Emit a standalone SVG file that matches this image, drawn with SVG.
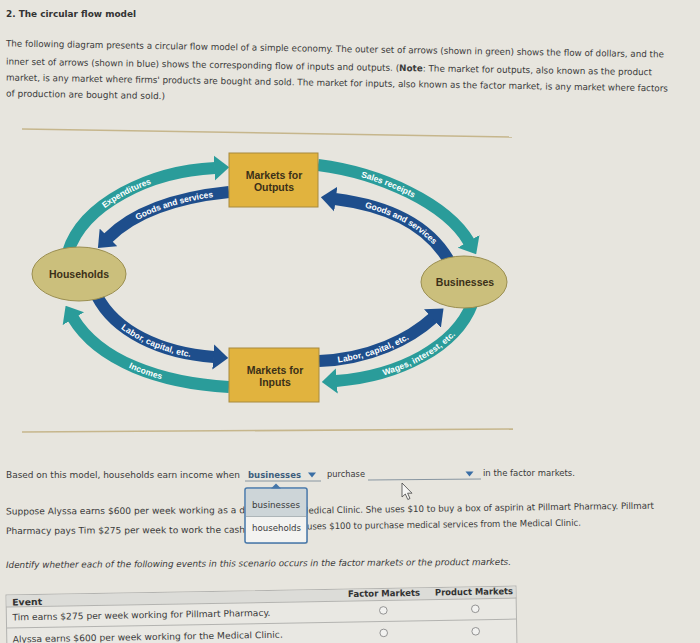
<svg xmlns="http://www.w3.org/2000/svg" width="700" height="643" viewBox="0 0 700 643">
<defs>
<style>
.ui{font-family:"DejaVu Sans","Liberation Sans",sans-serif;font-size:9px;fill:#3a3a3a}
.uib{font-family:"DejaVu Sans","Liberation Sans",sans-serif;font-size:9px;fill:#333;font-weight:bold}
.lbl{font-family:"Liberation Sans",Arial,sans-serif;font-size:10.5px;font-weight:bold;fill:#3b3018;text-anchor:middle}
.arr{font-family:"Liberation Sans",Arial,sans-serif;font-size:8.5px;font-weight:bold;fill:#ffffff;text-anchor:middle}
.teal{fill:none;stroke:#2a9c9a;stroke-width:12;marker-end:url(#ht)}
.blue{fill:none;stroke:#1e4e8c;stroke-width:12;marker-end:url(#hb)}
.box{fill:#e1b33e;stroke:#a88a3c;stroke-width:1}
.ell{fill:#cbbf7c;stroke:#9a8e50;stroke-width:1}
.rad{fill:#f2f2f0;stroke:#8a8a8a;stroke-width:0.9}
</style>
<marker id="ht" viewBox="0 0 6 10" refX="0.3" refY="5" markerWidth="1.25" markerHeight="2.1" orient="auto"><path d="M0,0 L6,5 L0,10 z" fill="#2a9c9a"/></marker>
<marker id="hb" viewBox="0 0 6 10" refX="0.3" refY="5" markerWidth="1.25" markerHeight="2.1" orient="auto"><path d="M0,0 L6,5 L0,10 z" fill="#1e4e8c"/></marker>
<path id="p1" d="M68,252 C83,204 150,171 215,168"/>
<path id="p2" d="M108,238 C135,211 180,197 229,192"/>
<path id="p3" d="M318,165 C381,173 447,204 469,242"/>
<path id="p4" d="M335,199 C390,206 429,226 449,261"/>
<path id="p5" d="M97,296 C115,331 160,353 214,357"/>
<path id="p6" d="M73,318 C99,361 160,383 229,387"/>
<path id="p7" d="M319,361 C370,359 410,339 433,318"/>
<path id="p8" d="M336,381 C400,376 456,346 472,304"/>
</defs>
<rect x="0" y="0" width="700" height="643" fill="#e7e5de"/>

<text class="uib" x="6" y="17" font-size="10" textLength="130" lengthAdjust="spacingAndGlyphs">2. The circular flow model</text>
<g class="intro">
<text class="ui" x="6" y="46.5" transform="rotate(0.95 6 46.5)" textLength="658" lengthAdjust="spacingAndGlyphs">The following diagram presents a circular flow model of a simple economy. The outer set of arrows (shown in green) shows the flow of dollars, and the</text>
<text class="ui" x="6" y="64.5" transform="rotate(0.95 6 64.5)" textLength="646" lengthAdjust="spacingAndGlyphs">inner set of arrows (shown in blue) shows the corresponding flow of inputs and outputs. (<tspan font-weight="bold">Note</tspan>: The market for outputs, also known as the product</text>
<text class="ui" x="6" y="80.5" transform="rotate(0.95 6 80.5)" textLength="662" lengthAdjust="spacingAndGlyphs">market, is any market where firms' products are bought and sold. The market for inputs, also known as the factor market, is any market where factors</text>
<text class="ui" x="6" y="96.5" transform="rotate(0.95 6 96.5)" textLength="159" lengthAdjust="spacingAndGlyphs">of production are bought and sold.)</text>
</g>

<line x1="22" y1="129" x2="512" y2="137" stroke="#c6b68c" stroke-width="1.6"/>
<line x1="22" y1="432" x2="513" y2="429" stroke="#c6b68c" stroke-width="1.6"/>

<g id="connectors">
<use href="#p1" class="teal"/>
<path d="M229,192 C180,197 135,211 108,238" class="blue"/>
<use href="#p3" class="teal"/>
<path d="M449,261 C429,226 390,206 335,199" class="blue"/>
<use href="#p5" class="blue"/>
<path d="M229,387 C160,383 99,361 73,318" class="teal"/>
<use href="#p7" class="blue"/>
<path d="M472,304 C456,346 400,376 336,381" class="teal"/>
<text class="arr" dy="3"><textPath href="#p1" startOffset="48%">Expenditures</textPath></text>
<text class="arr" dy="3"><textPath href="#p2" startOffset="57%">Goods and services</textPath></text>
<text class="arr" dy="3"><textPath href="#p3" startOffset="42%">Sales receipts</textPath></text>
<text class="arr" dy="3"><textPath href="#p4" startOffset="53%">Goods and services</textPath></text>
<text class="arr" dy="3"><textPath href="#p5" startOffset="56%">Labor, capital, etc.</textPath></text>
<text class="arr" dy="3"><textPath href="#p6" startOffset="52%">Incomes</textPath></text>
<text class="arr" dy="3"><textPath href="#p7" startOffset="45%">Labor, capital, etc.</textPath></text>
<text class="arr" dy="3"><textPath href="#p8" startOffset="54%">Wages, interest, etc.</textPath></text>
</g>

<g id="households">
<ellipse class="ell" cx="79" cy="274" rx="47" ry="27"/>
<text class="lbl" x="79" y="278" font-size="10">Households</text>
</g>
<g id="businesses">
<ellipse class="ell" cx="464" cy="282" rx="43" ry="26"/>
<text class="lbl" x="465" y="286" font-size="10">Businesses</text>
</g>
<g id="outputs">
<rect class="box" x="229" y="153" width="89" height="54"/>
<text class="lbl" x="274" y="179">Markets for</text>
<text class="lbl" x="274" y="191">Outputs</text>
</g>
<g id="inputs">
<rect class="box" x="229" y="348" width="90" height="54"/>
<text class="lbl" x="275" y="374">Markets for</text>
<text class="lbl" x="275" y="386">Inputs</text>
</g>

<g id="question">
<text class="ui" x="6" y="478" textLength="234" lengthAdjust="spacingAndGlyphs">Based on this model, households earn income when</text>
<text class="uib" x="248" y="477.5" style="fill:#3e5d7c" textLength="53" lengthAdjust="spacingAndGlyphs">businesses</text>
<line x1="245" y1="481" x2="321" y2="481" stroke="#7d8c9a" stroke-width="0.9"/>
<polygon points="308,472.5 316,472.5 312,477.5" fill="#3a6ea5"/>
<text class="ui" x="327" y="477" textLength="38" lengthAdjust="spacingAndGlyphs">purchase</text>
<line x1="368" y1="480" x2="481" y2="479" stroke="#7d8c9a" stroke-width="0.9"/>
<polygon points="465.5,471.5 473.5,471.5 469.5,476.5" fill="#3a6ea5"/>
<text class="ui" x="483" y="476" textLength="92" lengthAdjust="spacingAndGlyphs">in the factor markets.</text>

<text class="ui" x="6" y="514.5" transform="rotate(-0.3 6 514.5)" textLength="239" lengthAdjust="spacingAndGlyphs">Suppose Alyssa earns $600 per week working as a d</text>
<text class="ui" x="306" y="513.5" transform="rotate(-0.8 306 513.5)" textLength="348" lengthAdjust="spacingAndGlyphs">ledical Clinic. She uses $10 to buy a box of aspirin at Pillmart Pharmacy. Pillmart</text>
<text class="ui" x="6" y="534" transform="rotate(-0.3 6 534)" textLength="239" lengthAdjust="spacingAndGlyphs">Pharmacy pays Tim $275 per week to work the cash</text>
<text class="ui" x="307" y="529.5" transform="rotate(-0.8 307 529.5)" textLength="274" lengthAdjust="spacingAndGlyphs">uses $100 to purchase medical services from the Medical Clinic.</text>
</g>

<g id="dropdown">
<rect x="246" y="489" width="62" height="55" rx="2" fill="#9a9a9a" opacity="0.35"/>
<rect x="245" y="488" width="62" height="55" rx="2" fill="#f3f3f1" stroke="#4677a9" stroke-width="1.5"/>
<rect x="246" y="489" width="60" height="27" fill="#cdd5d8"/>
<line x1="246" y1="516.5" x2="306" y2="516.5" stroke="#9aa4aa" stroke-width="0.8"/>
<polygon points="271,488.5 276,483.5 281,488.5" fill="#4677a9"/>
<text class="ui" x="252" y="507.5" textLength="48" lengthAdjust="spacingAndGlyphs">businesses</text>
<text class="ui" x="252" y="530.5" textLength="49" lengthAdjust="spacingAndGlyphs">households</text>
</g>

<path d="M402,483 L402,497 L405.3,494 L407.8,499.5 L410,498.5 L407.6,493.2 L412,493.2 Z" fill="#f6f6f4" stroke="#444" stroke-width="0.8"/>

<text class="ui" x="6" y="568" font-style="italic" transform="rotate(-0.35 6 568)" textLength="505" lengthAdjust="spacingAndGlyphs">Identify whether each of the following events in this scenario occurs in the factor markets or the product markets.</text>

<g id="table" transform="rotate(-1 6 595)">
<rect x="6" y="595" width="510" height="60" fill="#e9e8e3" stroke="#b3b3b0" stroke-width="1"/>
<rect x="6.5" y="595.5" width="509" height="11" fill="#dcdcd8"/>
<line x1="6" y1="607" x2="516" y2="607" stroke="#b3b3b0" stroke-width="1"/>
<line x1="6" y1="628" x2="516" y2="628" stroke="#b3b3b0" stroke-width="1"/>
<text class="uib" x="12" y="605.5" textLength="30" lengthAdjust="spacingAndGlyphs">Event</text>
<text class="uib" x="348" y="603" textLength="72" lengthAdjust="spacingAndGlyphs">Factor Markets</text>
<text class="uib" x="435" y="603" textLength="78" lengthAdjust="spacingAndGlyphs">Product Markets</text>
<text class="ui" x="12" y="620.5" textLength="258" lengthAdjust="spacingAndGlyphs">Tim earns $275 per week working for Pillmart Pharmacy.</text>
<circle class="rad" cx="383" cy="617" r="3.8"/>
<circle class="rad" cx="475" cy="617" r="3.8"/>
<text class="ui" x="12" y="642.5" textLength="270" lengthAdjust="spacingAndGlyphs">Alyssa earns $600 per week working for the Medical Clinic.</text>
<circle class="rad" cx="383" cy="639.5" r="3.8"/>
<circle class="rad" cx="475" cy="639.5" r="3.8"/>
</g>
</svg>
